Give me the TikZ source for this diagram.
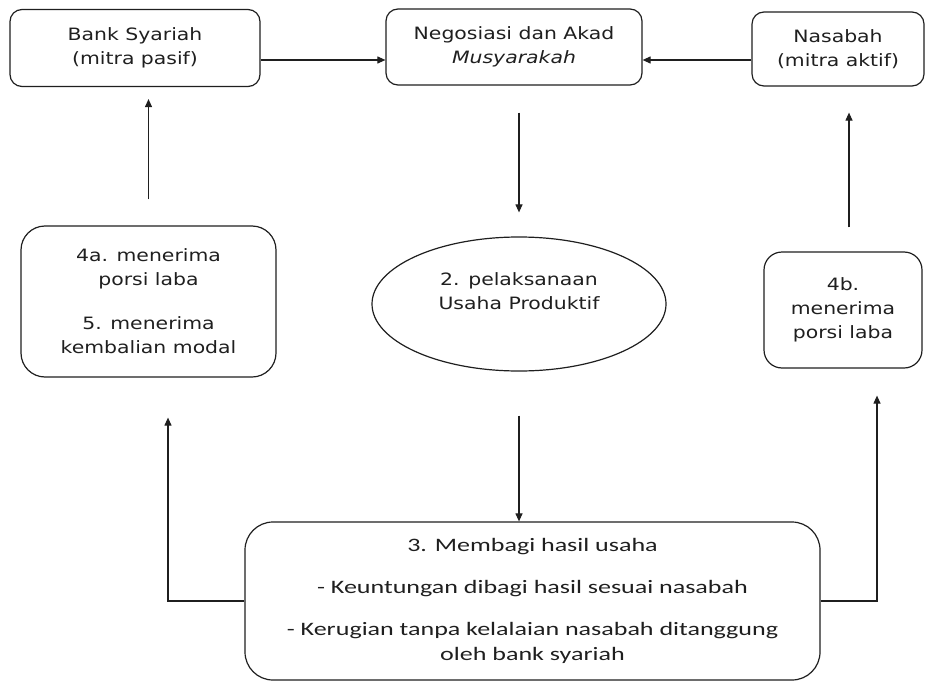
\documentclass[tikz,border=0pt]{standalone}
\usepackage{fontspec}
\setmainfont[FakeStretch=1.2]{DejaVu Sans}
\newfontfamily\bodyfont[FakeStretch=1.37]{Carlito}
\usetikzlibrary{arrows.meta,shapes.geometric}
\definecolor{inkgray}{HTML}{1F1F1F}

\begin{document}
\begin{tikzpicture}[
  x=1pt,y=-1pt,
  >={Triangle[length=8pt,width=7pt]},
  every node/.style={text=inkgray},
  party/.style={draw=inkgray,line width=1.2pt,rounded corners=12pt,inner sep=0pt,
    align=center,font=\fontsize{17}{24}\selectfont},
  gain/.style={party,rounded corners=24pt},
  flow/.style={->,draw=inkgray,line width=1.1pt}
]
  \useasboundingbox (0,0) rectangle (928,682);

  % pihak dan akad
  \node[party,minimum width=250pt,minimum height=77pt] (bank) at (135,48)
    {Bank Syariah\\(mitra pasif)};
  \node[party,minimum width=256pt,minimum height=76pt] (nego) at (514,47)
    {Negosiasi dan Akad\\\itshape Musyarakah};
  \node[party,minimum width=172pt,minimum height=74pt] (nasabah) at (838,49)
    {Nasabah\\(mitra aktif)};

  % tahap usaha
  \node[gain,minimum width=255pt,minimum height=151pt] (recv4a) at (148.5,301.5)
    {4a. menerima\\porsi laba\\[20pt]5. menerima\\kembalian modal};
  \node[ellipse,draw=inkgray,line width=1.2pt,minimum width=294pt,minimum height=134pt,
    inner sep=0pt,align=center,text depth=26pt,font=\fontsize{17}{24}\selectfont] (usaha) at (519,304)
    {2. pelaksanaan\\Usaha Produktif};
  \node[gain,rounded corners=18pt,minimum width=158pt,minimum height=116pt] (recv4b) at (843,310)
    {4b.\\menerima\\porsi laba};
  \node[gain,rounded corners=28pt,minimum width=575pt,minimum height=158pt,
    font=\bodyfont\fontsize{19}{24.5}\selectfont] (bagi) at (532.5,601)
    {3. Membagi hasil usaha\\[17pt]- Keuntungan dibagi hasil sesuai nasabah\\[18pt]- Kerugian tanpa kelalaian nasabah ditanggung\\oleh bank syariah};

  \coordinate (topline) at (0,60);
  \coordinate (rightup) at (849,0);
  \coordinate (leftup) at (168,0);
  \coordinate (rightelbow) at (877,0);

  \draw[flow] (bank.east |- topline) -- (nego.west |- topline);
  \draw[flow] (nasabah.west |- topline) -- (nego.east |- topline);
  \draw[flow,shorten <=26pt,shorten >=12pt] (recv4a.north) -- (recv4a.north |- bank.south);
  \draw[flow,shorten <=27pt,shorten >=24pt] (usaha.north |- nego.south) -- (usaha.north);
  \draw[flow,shorten <=24pt,shorten >=26pt] (rightup |- recv4b.north) -- (rightup |- nasabah.south);
  \draw[flow,shorten <=44pt] (usaha.south) -- (usaha.south |- bagi.north);
  \draw[flow,shorten >=40pt] (bagi.west) -| (leftup |- recv4a.south);
  \draw[flow,shorten >=27pt] (bagi.east) -| (rightelbow |- recv4b.south);
\end{tikzpicture}
\end{document}
